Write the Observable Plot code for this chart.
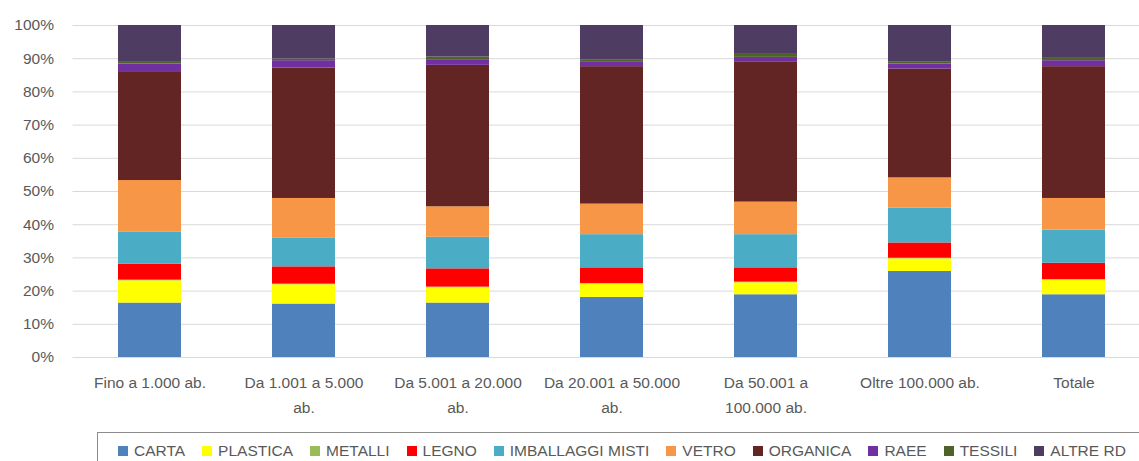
<!DOCTYPE html>
<html>
<head>
<meta charset="utf-8">
<script src="https://cdn.jsdelivr.net/npm/d3@7"></script>
<script src="https://cdn.jsdelivr.net/npm/@observablehq/plot@0.6"></script>
<style>
  html, body { margin: 0; padding: 0; background: #fff; overflow: hidden; }
  body { font-family: "Liberation Sans", Arial, sans-serif; width: 1139px; height: 461px; position: relative; }
  #chart { position: absolute; left: 0; top: 0; }
  #chart svg { max-width: none !important; display: block; }
  #legend {
    position: absolute; left: 97px; top: 432px; width: 1060px; height: 40px;
    border: 1px solid #8c8c8c; box-sizing: border-box;
    padding: 9px 0 0 20px; display: flex; gap: 17px; white-space: nowrap;
    font-size: 15.5px; line-height: 18px; color: #595959; align-items: flex-start;
  }
  .item { display: inline-flex; align-items: center; height: 18px; }
  .sw { width: 10px; height: 10px; margin-right: 6px; display: inline-block; }
</style>
</head>
<body>
<div id="chart"></div>
<div id="legend"></div>
<script>
const categories = ["Fino a 1.000 ab.", "Da 1.001 a 5.000 ab.", "Da 5.001 a 20.000 ab.", "Da 20.001 a 50.000 ab.", "Da 50.001 a 100.000 ab.", "Oltre 100.000 ab.", "Totale"];
const tickLabels = ["Fino a 1.000 ab.", "Da 1.001 a 5.000\nab.", "Da 5.001 a 20.000\nab.", "Da 20.001 a 50.000\nab.", "Da 50.001 a\n100.000 ab.", "Oltre 100.000 ab.", "Totale"];
const series = ["CARTA", "PLASTICA", "METALLI", "LEGNO", "IMBALLAGGI MISTI", "VETRO", "ORGANICA", "RAEE", "TESSILI", "ALTRE RD"];
const colors = ["#4f81bd", "#ffff00", "#9bbb59", "#ff0000", "#4bacc6", "#f79646", "#632523", "#7030a0", "#4f6228", "#4e3c62"];
const yTicks = [0, 10, 20, 30, 40, 50, 60, 70, 80, 90, 100];

const carta      = [16.4, 16.1, 16.4, 18.1, 18.9, 25.9, 18.9];
const plastica   = [ 6.7,  5.8,  4.6,  4.0,  3.6,  3.8,  4.4];
const metalli    = [ 0.2,  0.2,  0.2,  0.2,  0.2,  0.2,  0.2];
const legno      = [ 4.8,  5.2,  5.5,  4.7,  4.3,  4.6,  4.9];
const imballaggi = [ 9.6,  8.6,  9.5, 10.0, 10.0, 10.5, 10.0];
const vetro      = [15.6, 12.0,  9.2,  9.2,  9.8,  9.1,  9.5];
const organica   = [32.8, 39.3, 42.6, 41.4, 42.1, 32.8, 39.7];
const raee       = [ 2.3,  2.2,  1.7,  1.5,  1.5,  1.5,  1.8];
const tessili    = [ 0.5,  0.5,  0.8,  0.6,  0.9,  0.7,  0.7];
const altre      = [11.1, 10.1,  9.5, 10.3,  8.7, 10.9,  9.9];

const seriesValues = [carta, plastica, metalli, legno, imballaggi, vetro, organica, raee, tessili, altre];
const table = [];
series.forEach((s, si) => categories.forEach((c, ci) => table.push({cat: c, series: s, value: seriesValues[si][ci]})));

const chart = Plot.plot({
  width: 1152,
  height: 420,
  marginLeft: 72.5,
  marginRight: 1.5,
  marginTop: 25,
  marginBottom: 63,
  style: {fontFamily: '"Liberation Sans", Arial, sans-serif', fontSize: "15.5px", color: "#595959", background: "#fff", overflow: "visible", maxWidth: "none"},
  x: {domain: categories, paddingInner: 0.59, paddingOuter: 0.295, label: null},
  y: {domain: [0, 100], label: null},
  color: {domain: series, range: colors},
  marks: [
    Plot.gridY(yTicks, {stroke: "#d9d9d9", strokeOpacity: 1, strokeWidth: 1}),
    Plot.barY(table, {x: "cat", y: "value", fill: "series", z: "series", order: series}),
    Plot.axisY(yTicks, {tickSize: 0, tickPadding: 19, tickFormat: d => d + "%", fill: "#595959"}),
    Plot.axisX({tickSize: 0, tickPadding: 13, lineHeight: 1.6, fill: "#595959", tickFormat: d => tickLabels[categories.indexOf(d)]})
  ]
});
document.getElementById("chart").appendChild(chart);

const legend = document.getElementById("legend");
series.forEach((s, i) => {
  const item = document.createElement("span");
  item.className = "item";
  const sw = document.createElement("span");
  sw.className = "sw";
  sw.style.background = colors[i];
  item.appendChild(sw);
  item.appendChild(document.createTextNode(s));
  legend.appendChild(item);
});
</script>
</body>
</html>
